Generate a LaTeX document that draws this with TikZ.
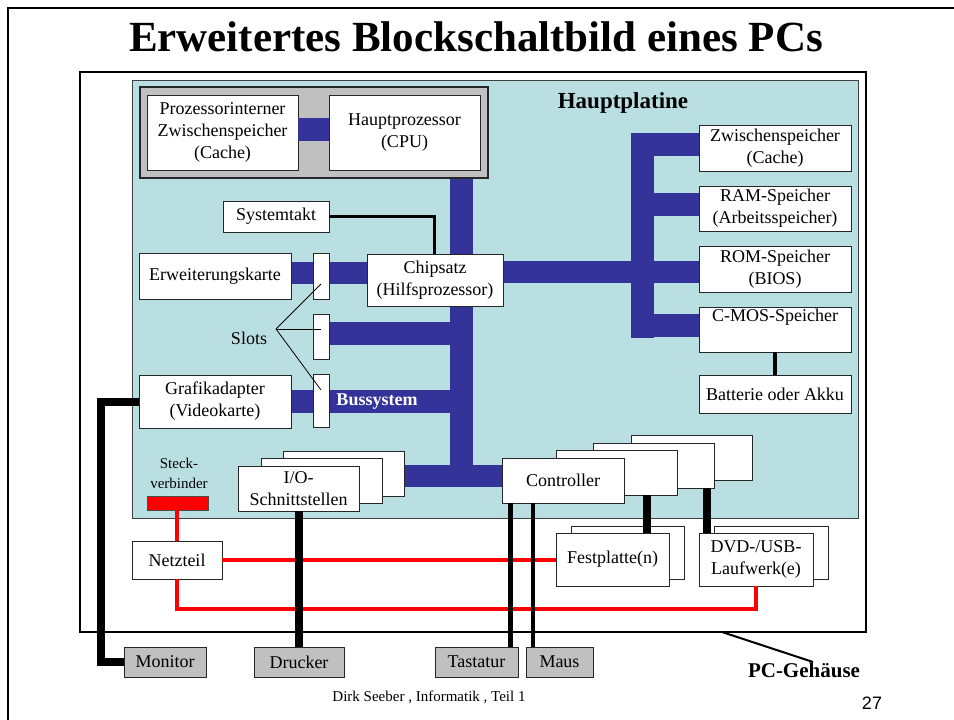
\documentclass[tikz,border=0pt]{standalone}
\usepackage{fontspec}
\setmainfont{Liberation Serif}
\newfontfamily\arialfont{Liberation Sans}
\definecolor{boardblue}{RGB}{186,223,227}
\definecolor{busblue}{RGB}{51,51,153}
\definecolor{boxgray}{RGB}{192,192,192}
\definecolor{plugred}{RGB}{255,0,0}
\newcommand\bodyfs{\fontsize{18}{22}\selectfont}
\pgfdeclarelayer{backlayer}
\pgfdeclarelayer{buslayer}
\pgfsetlayers{backlayer,buslayer,main}
\tikzset{
  wh/.style 2 args={minimum width=#1pt, minimum height=#2pt},
  box/.style={draw=black!85, line width=0.9pt, fill=white, align=center,
    inner sep=0pt, outer sep=0pt, font=\bodyfs, anchor=north west},
  gbox/.style={box, fill=boxgray},
  bus/.style={draw=busblue, line width=22.5pt},
  blkw/.style={draw=black, line width=#1pt},
  redw/.style={draw=plugred, line width=3.5pt},
  lbl/.style={inner sep=0pt, align=center}
}
\begin{document}
\begin{tikzpicture}[x=1pt,y=-1pt]
\useasboundingbox (0,0) rectangle (954,720);
% slide frame
\draw[line width=2pt] (8,720) -- (8,8) -- (954,8);
% title
\node[lbl, font=\fontsize{43}{50}\selectfont\bfseries] (title) at (476,37) {Erweitertes Blockschaltbild eines PCs};

\begin{pgfonlayer}{backlayer}
  \node[box, draw=black, line width=1.8pt, wh={786}{560}] (case) at (80,72) {};
  \node[box, fill=boardblue, draw=black!75, line width=1pt, wh={726}{438}] (board) at (132,80) {};
\end{pgfonlayer}

\node[lbl, font=\fontsize{23}{26}\selectfont\bfseries] (hp) at (623,103) {Hauptplatine};

% CPU group
\node[gbox, line width=1.2pt, wh={348}{91}] (cpugrp) at (140,87) {};
\node[box, wh={151}{75}] (pcache) at (147,95) {Prozessorinterner\\Zwischenspeicher\\(Cache)};
\node[box, wh={151}{75}] (cpu) at (329,95) {Hauptprozessor\\(CPU)};
\draw[bus] (pcache.east |- 0,129.5) -- (cpu.west |- 0,129.5);

% left column
\node[box, wh={106}{31}] (sys) at (223,201) {Systemtakt};
\node[box, wh={152}{46}] (ek) at (139,253) {Erweiterungskarte};
\node[box, wh={16}{46}] (slot1) at (313,253) {};
\node[box, wh={16}{45}] (slot2) at (313,314) {};
\node[box, wh={16}{53}] (slot3) at (313,374) {};
\node[box, wh={136}{52}] (chip) at (367,254) {Chipsatz\\(Hilfsprozessor)};
\node[box, wh={152}{53}] (grafik) at (139,375) {Grafikadapter\\(Videokarte)};
\node[lbl, font=\bodyfs] (slots) at (249,338) {Slots};
\coordinate (sj) at (276,329);
\node[lbl, font=\fontsize{18}{22}\selectfont\bfseries, text=white] (bussys) at (377,402) {Bussystem};

% memory column
\node[box, wh={152}{46}] (cache2) at (699,125) {Zwischenspeicher\\(Cache)};
\node[box, wh={152}{45}] (ram) at (699,186) {RAM-Speicher\\(Arbeitsspeicher)};
\node[box, wh={152}{46}] (rom) at (699,246) {ROM-Speicher\\(BIOS)};
\node[box, wh={152}{45}] (cmos) at (699,307) {C-MOS-Speicher\\\strut};
\node[box, wh={152}{38}] (batt) at (699,375) {Batterie oder Akku};

% lower board
\node[lbl, font=\fontsize{15}{20}\selectfont] (stecktxt) at (179,473) {Steck-\\verbinder};
\node[box, fill=plugred, draw=black!70, wh={61}{14}] (steck) at (147,496) {};
\node[box, wh={121}{45}] (io3) at (283,451) {};
\node[box, wh={121}{45}] (io2) at (261,458) {};
\node[box, wh={121}{45}] (io1) at (238,466) {I/O-\\Schnittstellen};
\node[box, wh={121}{45}] (ctrl3) at (631,435) {};
\node[box, wh={121}{45}] (ctrl2) at (593,443) {};
\node[box, wh={121}{45}] (ctrl1) at (556,450) {};
\node[box, wh={122}{45}] (ctrl) at (502,458) {Controller};

% case interior
\node[box, wh={90}{38}] (netz) at (132,541) {Netzteil};
\node[box, wh={113}{53}] (hd2) at (571,526) {};
\node[box, wh={113}{53}] (hd) at (556,533) {Festplatte(n)};
\node[box, wh={114}{53}] (dvd2) at (714,526) {};
\node[box, wh={114}{53}] (dvd) at (699,533) {DVD-/USB-\\Laufwerk(e)};

% peripherals
\node[gbox, wh={82}{30}] (monitor) at (124,647) {Monitor};
\node[gbox, wh={90}{30}] (drucker) at (254,647) {Drucker};
\node[gbox, wh={83}{30}] (tast) at (435,647) {Tastatur};
\node[gbox, wh={67}{30}] (maus) at (526,647) {Maus};

\node[lbl, font=\fontsize{21}{24}\selectfont\bfseries] (pcg) at (804,670) {PC-Gehäuse};
\coordinate (pcgtip) at (813,662);
\draw[line width=2pt] (722,0 |- case.south) -- (pcgtip);

\node[lbl, font=\fontsize{15}{18}\selectfont] (footer) at (429,697) {Dirk Seeber , Informatik , Teil 1};
\node[lbl, font=\arialfont\fontsize{18}{20}\selectfont] (pagenr) at (872,703) {27};

% bus system
\begin{pgfonlayer}{buslayer}
  \draw[bus] (461.5,0 |- cpugrp.south) -- (461.5,487);
  \draw[bus] (io3.east |- 0,476) -- (ctrl.west |- 0,476);
  \draw[bus] (chip.east |- 0,272) -- (rom.west |- 0,272);
  \draw[bus] (642.5,133) -- (642.5,338);
  \draw[bus] (631,144.5) -- (cache2.west |- 0,144.5);
  \draw[bus] (631,204.5) -- (ram.west |- 0,204.5);
  \draw[bus] (631,325.5) -- (cmos.west |- 0,325.5);
  \draw[bus] (ek.east |- 0,273) -- (chip.west |- 0,273);
  \draw[bus] (slot2.east |- 0,333.5) -- (461.5,333.5);
  \draw[bus] (grafik.east |- 0,401.5) -- (461.5,401.5);
\end{pgfonlayer}

% slot pointer lines
\draw[line width=0.8pt] (sj) -- (slot1.center |- 0,284);
\draw[line width=0.8pt] (sj) -- (slot2.center |- 0,329);
\draw[line width=0.8pt] (sj) -- (slot3.center |- 0,390);

% power lines
\draw[redw] (netz.north |- steck.south) -- (netz.north);
\draw[redw] (netz.east) -- (hd.west |- netz.east);
\draw[redw] (netz.south) -- (netz.south |- 0,609) -- (dvd.south |- 0,609) -- (dvd.south);

% black cables
\draw[blkw=3] (sys.east) -- (434,0 |- sys.east) -- (434,0 |- chip.north);
\draw[blkw=4] (cmos.south) -- (batt.north);
\draw[blkw=8] (grafik.west) -- (100.5,0 |- grafik.west) -- (100.5,0 |- monitor.west) -- (monitor.west);
\draw[blkw=8] (io1.south) -- (io1.south |- drucker.north);
\draw[blkw=4.5] (510.5,0 |- ctrl.south) -- (510.5,0 |- tast.north);
\draw[blkw=4.5] (533,0 |- ctrl.south) -- (533,0 |- maus.north);
\draw[blkw=8] (647,0 |- ctrl1.south) -- (647,0 |- hd.north);
\draw[blkw=8] (706.5,0 |- ctrl2.south) -- (706.5,0 |- dvd.north);
\end{tikzpicture}
\end{document}
